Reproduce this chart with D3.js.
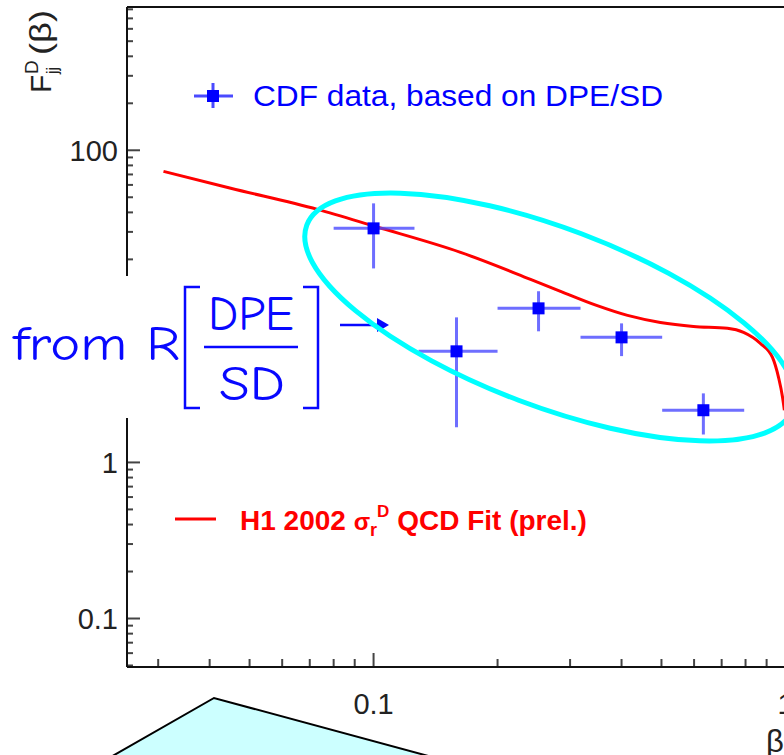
<!DOCTYPE html>
<html>
<head>
<meta charset="utf-8">
<script src="https://cdn.jsdelivr.net/npm/d3@7"></script>
<style>
  body { margin: 0; background: #fff; }
  text { font-family: "Liberation Sans", Arial, Helvetica, sans-serif; }
</style>
</head>
<body>
<svg id="chart" width="784" height="755"></svg>
<script>
// CDF points (beta bins, F_jj^D values with errors)
const cdfBeta   = [0.1, 0.159, 0.2515, 0.40, 0.632];
const cdfBetaLo = [0.080, 0.1286, 0.20, 0.318, 0.502];
const cdfBetaHi = [0.1257, 0.20, 0.318, 0.502, 0.794];
const cdfF      = [31.6, 5.15, 9.71, 6.33, 2.16];
const cdfFLo    = [17.5, 1.68, 6.92, 4.80, 1.51];
const cdfFHi    = [45.7, 8.50, 12.5, 7.78, 2.77];

// H1 2002 QCD fit curve
const fitBeta = [0.0309, 0.045, 0.0731, 0.1006, 0.1626, 0.2405, 0.2844, 0.3478, 0.4136,
                 0.497, 0.598, 0.723, 0.791, 0.869, 0.930, 0.962, 0.984, 0.994];
const fitF    = [73.3, 57.1, 41.8, 32.6, 22.2, 14.9, 12.48, 10.14, 8.75,
                 7.89, 7.44, 7.23, 6.81, 5.79, 4.71, 3.51, 2.61, 2.16];

// the "10" label sits under the white annotation box, so it is not drawn
const yTickValues = [0.1, 1, 100];
const yTickLabels = ["0.1", "1", "100"];
const xTickValues = [0.1, 1];
const xTickLabels = ["0.1", "1"];

const svg = d3.select("#chart");
svg.append("rect").attr("width", 784).attr("height", 755).attr("fill", "#fff");

const plotLeft = 127, plotRight = 789, plotTop = 7, plotBottom = 667;

const x = d3.scaleLog().domain([0.0252, 1.02]).range([plotLeft, plotRight]);
const y = d3.scaleLog().domain([0.0489, 828]).range([plotBottom, plotTop]);

// ticks (inside the frame)
const tickColor = "#444";
const g = svg.append("g");

y.ticks().filter(v => v >= y.domain()[0] && v <= y.domain()[1]).forEach(v => {
  const major = Math.abs(Math.log10(v) - Math.round(Math.log10(v))) < 1e-6;
  g.append("line")
    .attr("x1", plotLeft).attr("x2", plotLeft + (major ? 13 : 6))
    .attr("y1", y(v)).attr("y2", y(v))
    .attr("stroke", tickColor).attr("stroke-width", 2);
});

x.ticks().filter(v => v >= x.domain()[0] && v <= x.domain()[1]).forEach(v => {
  const major = Math.abs(Math.log10(v) - Math.round(Math.log10(v))) < 1e-6;
  g.append("line")
    .attr("x1", x(v)).attr("x2", x(v))
    .attr("y1", plotBottom).attr("y2", plotBottom - (major ? 14 : 8))
    .attr("stroke", tickColor).attr("stroke-width", 2);
});

// frame
g.append("line").attr("x1", plotLeft).attr("x2", plotLeft).attr("y1", plotTop).attr("y2", plotBottom)
  .attr("stroke", "#111").attr("stroke-width", 2);
g.append("line").attr("x1", plotLeft).attr("x2", 800).attr("y1", plotBottom).attr("y2", plotBottom)
  .attr("stroke", "#111").attr("stroke-width", 2);
g.append("line").attr("x1", plotLeft).attr("x2", 800).attr("y1", plotTop).attr("y2", plotTop)
  .attr("stroke", "#111").attr("stroke-width", 2);

// tick labels
yTickValues.forEach((v, i) => {
  g.append("text").attr("x", 118).attr("y", y(v)).attr("dy", "0.36em")
    .attr("text-anchor", "end").attr("font-size", 29).attr("fill", "#222")
    .text(yTickLabels[i]);
});
xTickValues.forEach((v, i) => {
  g.append("text").attr("x", x(v)).attr("y", 714)
    .attr("text-anchor", "middle").attr("font-size", 29).attr("fill", "#222")
    .text(xTickLabels[i]);
});

// axis titles
const yt = g.append("g").attr("transform", "translate(51,93) rotate(-90)");
yt.append("text").attr("x", 0).attr("y", 0).attr("font-size", 30).attr("fill", "#222").text("F");
yt.append("text").attr("x", 19).attr("y", 7).attr("font-size", 16).attr("fill", "#222").text("jj");
yt.append("text").attr("x", 19).attr("y", -13).attr("font-size", 19).attr("fill", "#222").text("D");
yt.append("text").attr("x", 38).attr("y", 0).attr("font-size", 30).attr("fill", "#222")
  .attr("textLength", 45).attr("lengthAdjust", "spacingAndGlyphs").text("(β)");

g.append("text").attr("x", 766).attr("y", 752).attr("font-size", 31).attr("fill", "#222").text("β");

// fit curve
const fitData = fitBeta.map((b, i) => [b, fitF[i]]);
g.append("path")
  .datum(fitData)
  .attr("fill", "none").attr("stroke", "#ff0000").attr("stroke-width", 3)
  .attr("d", d3.line().x(d => x(d[0])).y(d => y(d[1])).curve(d3.curveMonotoneX));

// data points
const errColor = "#4a4aff";
cdfBeta.forEach((b, i) => {
  g.append("line")
    .attr("x1", x(cdfBetaLo[i])).attr("x2", x(cdfBetaHi[i]))
    .attr("y1", y(cdfF[i])).attr("y2", y(cdfF[i]))
    .attr("stroke", errColor).attr("stroke-opacity", 0.8).attr("stroke-width", 3);
  g.append("line")
    .attr("x1", x(b)).attr("x2", x(b))
    .attr("y1", y(cdfFLo[i])).attr("y2", y(cdfFHi[i]))
    .attr("stroke", errColor).attr("stroke-opacity", 0.8).attr("stroke-width", 3);
  g.append("rect")
    .attr("x", x(b) - 6).attr("y", y(cdfF[i]) - 6)
    .attr("width", 12).attr("height", 12).attr("fill", "#0000ff");
});

// legends
g.append("line").attr("x1", 194).attr("x2", 233).attr("y1", 96).attr("y2", 96)
  .attr("stroke", errColor).attr("stroke-width", 3);
g.append("line").attr("x1", 213).attr("x2", 213).attr("y1", 83).attr("y2", 108)
  .attr("stroke", errColor).attr("stroke-width", 3);
g.append("rect").attr("x", 207).attr("y", 90).attr("width", 12).attr("height", 12).attr("fill", "#0000ff");
g.append("text").attr("x", 253).attr("y", 106).attr("font-size", 29).attr("fill", "#0000ff")
  .attr("textLength", 410).attr("lengthAdjust", "spacingAndGlyphs")
  .text("CDF data, based on DPE/SD");

g.append("line").attr("x1", 175).attr("x2", 216).attr("y1", 519).attr("y2", 519)
  .attr("stroke", "#ff0000").attr("stroke-width", 3);
const lt = g.append("text").attr("x", 240).attr("y", 530).attr("font-size", 28)
  .attr("font-weight", "bold").attr("fill", "#ff0000");
lt.append("tspan").text("H1 2002 ");
lt.append("tspan").attr("font-size", 24).text("σ");
lt.append("tspan").attr("font-size", 18).attr("dy", 6).text("r");
lt.append("tspan").attr("font-size", 17).attr("dy", -19).text("D");
lt.append("tspan").attr("dy", 13).text(" QCD Fit (prel.)");

// white box annotation
const ann = svg.append("g");
ann.append("rect").attr("x", 0).attr("y", 276).attr("width", 326).attr("height", 142).attr("fill", "#fff");
const blue = "#0808ff";
const comic = "'Comic Sans MS', 'Comic Neue', 'DejaVu Sans', sans-serif";
ann.append("text").attr("x", 13).attr("y", 360).attr("font-size", 48)
  .style("font-family", comic).attr("fill", blue)
  .attr("textLength", 167).attr("lengthAdjust", "spacingAndGlyphs").text("from R");
ann.append("path").attr("d", "M200,287 H185 V408 H200 M303,287 H318 V408 H303")
  .attr("fill", "none").attr("stroke", blue).attr("stroke-width", 2.5);
ann.append("line").attr("x1", 204).attr("x2", 298).attr("y1", 347).attr("y2", 347)
  .attr("stroke", blue).attr("stroke-width", 2.5);
ann.append("text").attr("x", 251).attr("y", 330).attr("text-anchor", "middle").attr("font-size", 48)
  .style("font-family", comic).attr("fill", blue)
  .attr("textLength", 86).attr("lengthAdjust", "spacingAndGlyphs").text("DPE");
ann.append("text").attr("x", 252).attr("y", 400).attr("text-anchor", "middle").attr("font-size", 48)
  .style("font-family", comic).attr("fill", blue)
  .attr("textLength", 66).attr("lengthAdjust", "spacingAndGlyphs").text("SD");
ann.append("line").attr("x1", 340).attr("x2", 380).attr("y1", 325).attr("y2", 325)
  .attr("stroke", blue).attr("stroke-width", 2.5);
ann.append("path").attr("d", "M377,318 L389,325 L377,332 Z").attr("fill", blue);

// cyan ellipse
ann.append("ellipse").attr("cx", 550).attr("cy", 317).attr("rx", 260).attr("ry", 89)
  .attr("transform", "rotate(20.7,550,317)")
  .attr("fill", "none").attr("stroke", "#00ffff").attr("stroke-width", 5);

// callout shape at bottom
ann.append("path").attr("d", "M53,790 L214,698 L554,790")
  .attr("fill", "#ccffff").attr("stroke", "#000").attr("stroke-width", 2);
</script>
</body>
</html>
